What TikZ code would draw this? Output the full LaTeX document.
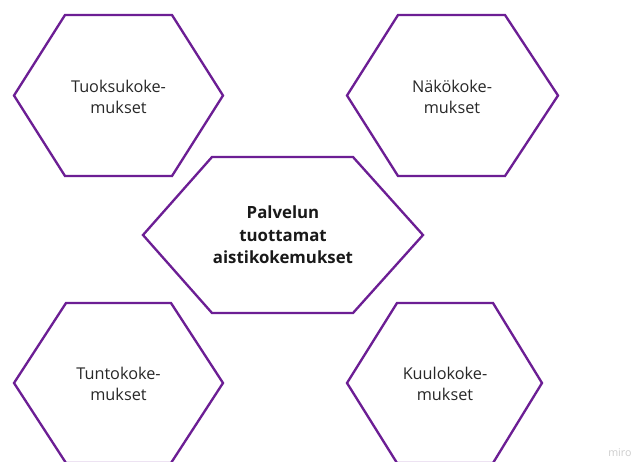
\documentclass[tikz,border=0pt]{standalone}
\usepackage{fontspec}
\setmainfont{Open Sans}
\definecolor{hexline}{RGB}{108,30,148}
\definecolor{label}{RGB}{40,40,40}
\definecolor{wm}{RGB}{205,205,205}
\begin{document}
\begin{tikzpicture}[x=0.75pt,y=-0.75pt,
  hexedge/.style={draw=hexline,line width=1.75pt,line join=miter},
  hexlabel/.style={align=center,text=label,font=\fontsize{12.2}{15.4}\selectfont},
  mainlabel/.style={align=center,text=black!90,font=\fontsize{12.6}{16.9}\selectfont\bfseries}]
\useasboundingbox (0,0) rectangle (634,461);
\fill[white] (0,0) rectangle (634,461);
% hexagon outline: (left, top-left x, top-right x, right, top, bottom)
\newcommand{\hexshape}[6]{%
  \draw[hexedge] (#1,{(#5+#6)/2}) -- (#2,#5) -- (#3,#5) -- (#4,{(#5+#6)/2})
    -- (#3,#6) -- (#2,#6) -- cycle;}
\hexshape{14}{65}{172}{223}{15}{176}
\hexshape{347}{398}{505}{558}{15}{176}
\hexshape{143}{212}{353}{423}{157}{313}
\hexshape{14}{66}{171}{223}{303}{463}
\hexshape{347}{397}{493}{542}{303}{463}
\node[hexlabel] (smell) at (118.5,97) {Tuoksukoke-\\mukset};
\node[hexlabel] (sight) at (452,97) {Näkökoke-\\mukset};
\node[mainlabel] (centre) at (283,235) {Palvelun\\tuottamat\\aistikokemukset};
\node[hexlabel] (touch) at (118.5,384) {Tuntokoke-\\mukset};
\node[hexlabel] (hearing) at (445,384) {Kuulokoke-\\mukset};
\node[anchor=base west,text=wm,font=\fontsize{8}{9}\selectfont,inner sep=0] (brand) at (608,456) {miro};
\end{tikzpicture}
\end{document}
